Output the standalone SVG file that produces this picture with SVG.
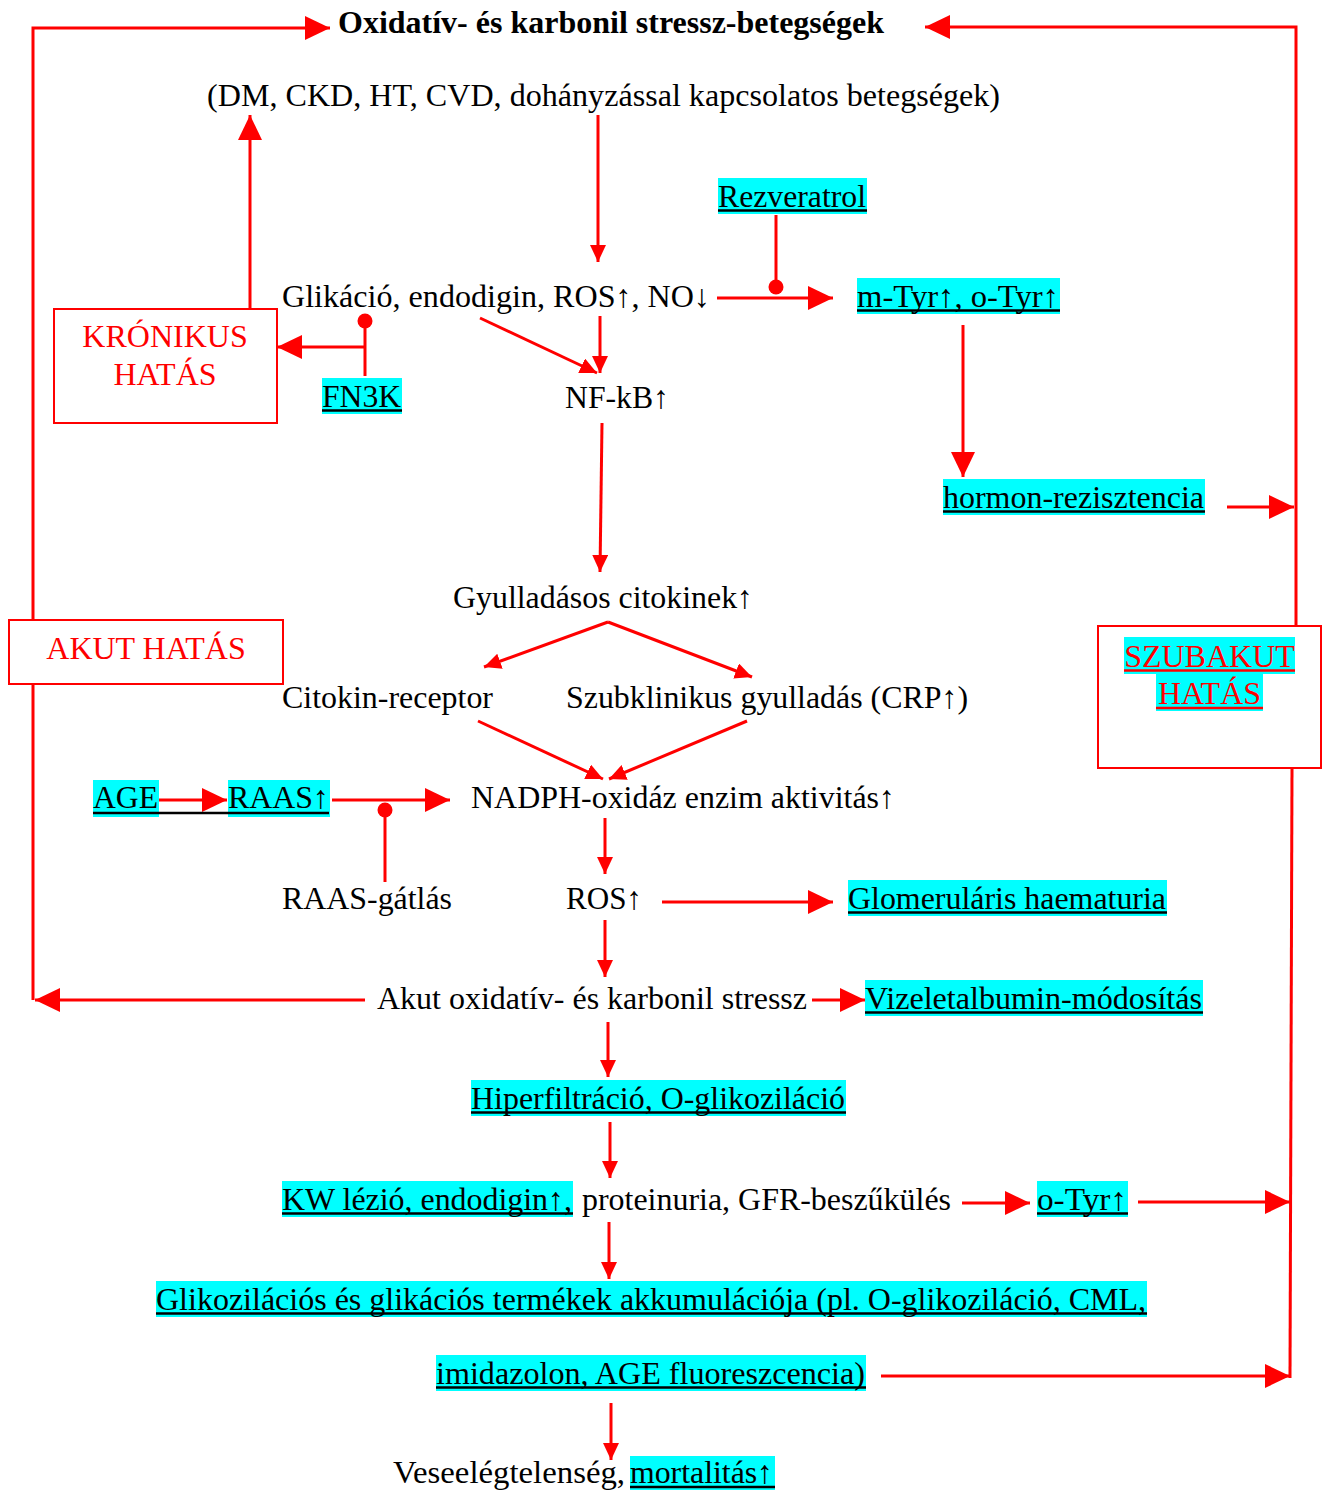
<svg xmlns="http://www.w3.org/2000/svg" width="1325" height="1490" viewBox="0 0 1325 1490">
<style>
.t{font-family:"Liberation Serif","Times New Roman",serif;font-size:32px;fill:#000}
.b{font-weight:bold}
.red{fill:#ff0000}
.hl{fill:#00ffff}
.ul{stroke:#000;stroke-width:2.5}
.ulr{stroke:#ff0000;stroke-width:2.5}
.c{stroke:#ff0000;stroke-width:3;fill:none}
.box{fill:#fff;stroke:#ff0000;stroke-width:2}
.dot{fill:#ff0000}
</style>
<defs>
<marker id="big" markerUnits="userSpaceOnUse" markerWidth="26" markerHeight="26" refX="25" refY="12" orient="auto"><path d="M0,0 L25,12 L0,24 Z" fill="#ff0000"/></marker>
<marker id="med" markerUnits="userSpaceOnUse" markerWidth="20" markerHeight="20" refX="17" refY="8" orient="auto"><path d="M0,0 L17,8 L0,16 Z" fill="#ff0000"/></marker>
</defs>
<rect width="1325" height="1490" fill="#fff"/>

<g id="connectors">
  <path class="c" d="M365,1000 H35" marker-end="url(#big)"/>
  <path class="c" d="M33,1000 V28 H330" marker-end="url(#big)"/>
  <path class="c" d="M1296,627 V27 H925" marker-end="url(#big)"/>
  <path class="c" d="M1292,768 L1290,1378"/>
  <path class="c" d="M1227,507 H1294" marker-end="url(#big)"/>
  <path class="c" d="M1138,1202 H1290" marker-end="url(#big)"/>
  <path class="c" d="M881,1376 H1290" marker-end="url(#big)"/>
  <path class="c" d="M250,309 V115" marker-end="url(#big)"/>
  <path class="c" d="M365,376 V321"/>
  <circle class="dot" cx="365" cy="321" r="7.5"/>
  <path class="c" d="M365,347 H277" marker-end="url(#big)"/>
  <path class="c" d="M598,115 V262" marker-end="url(#med)"/>
  <path class="c" d="M776,215 V287"/>
  <circle class="dot" cx="776" cy="287" r="7.5"/>
  <path class="c" d="M717,298 H833" marker-end="url(#big)"/>
  <path class="c" d="M480,318 L597,373" marker-end="url(#med)"/>
  <path class="c" d="M600,316 V373" marker-end="url(#med)"/>
  <path class="c" d="M963,325 V477" marker-end="url(#big)"/>
  <path class="c" d="M602,423 L600,572" marker-end="url(#med)"/>
  <path class="c" d="M608,622 L484,667" marker-end="url(#med)"/>
  <path class="c" d="M608,622 L752,677" marker-end="url(#med)"/>
  <path class="c" d="M478,721 L603,779" marker-end="url(#med)"/>
  <path class="c" d="M747,721 L609,779" marker-end="url(#med)"/>
  <path class="c" d="M155,800 H227" marker-end="url(#big)"/>
  <path class="c" d="M332,800 H450" marker-end="url(#big)"/>
  <path class="c" d="M385,882 V810"/>
  <circle class="dot" cx="385" cy="810" r="7.5"/>
  <path class="c" d="M605,818 V874" marker-end="url(#med)"/>
  <path class="c" d="M662,902 H833" marker-end="url(#big)"/>
  <path class="c" d="M605,920 V977" marker-end="url(#med)"/>
  <path class="c" d="M812,1000 H865" marker-end="url(#big)"/>
  <path class="c" d="M608,1022 V1077" marker-end="url(#med)"/>
  <path class="c" d="M610,1122 V1178" marker-end="url(#med)"/>
  <path class="c" d="M609,1222 V1279" marker-end="url(#med)"/>
  <path class="c" d="M962,1203 H1030" marker-end="url(#big)"/>
  <path class="c" d="M611,1403 V1460" marker-end="url(#med)"/>
</g>

<g id="title"><text class="t b" x="338" y="33" textLength="546" lengthAdjust="spacingAndGlyphs">Oxidatív- és karbonil stressz-betegségek</text></g>
<g id="diseases"><text class="t" x="207" y="106" textLength="793" lengthAdjust="spacingAndGlyphs">(DM, CKD, HT, CVD, dohányzással kapcsolatos betegségek)</text></g>
<g id="rezveratrol"><rect class="hl" x="718" y="178" width="149" height="36"/><line class="ul" x1="718" y1="210.5" x2="867" y2="210.5"/><text class="t" x="718" y="207" textLength="148" lengthAdjust="spacingAndGlyphs">Rezveratrol</text></g>
<g id="glikacio"><text class="t" x="282" y="307" textLength="428" lengthAdjust="spacingAndGlyphs">Glikáció, endodigin, ROS↑, NO↓</text></g>
<g id="mtyr"><rect class="hl" x="857" y="278" width="203" height="36"/><line class="ul" x1="857" y1="310.5" x2="1060" y2="310.5"/><text class="t" x="857" y="307" textLength="202" lengthAdjust="spacingAndGlyphs">m-Tyr↑, o-Tyr↑</text></g>
<g id="kronikus"><rect class="box" x="54" y="309" width="223" height="114"/><text class="t red" x="165" y="347" text-anchor="middle">KRÓNIKUS</text><text class="t red" x="165" y="385" text-anchor="middle">HATÁS</text></g>
<g id="fn3k"><rect class="hl" x="322" y="378" width="80" height="36"/><line class="ul" x1="322" y1="410.5" x2="402" y2="410.5"/><text class="t" x="322" y="407" textLength="79" lengthAdjust="spacingAndGlyphs">FN3K</text></g>
<g id="nfkb"><text class="t" x="565" y="408" textLength="104" lengthAdjust="spacingAndGlyphs">NF-kB↑</text></g>
<g id="hormon"><rect class="hl" x="943" y="479" width="262" height="36"/><line class="ul" x1="943" y1="511.5" x2="1205" y2="511.5"/><text class="t" x="943" y="508" textLength="261" lengthAdjust="spacingAndGlyphs">hormon-rezisztencia</text></g>
<g id="gyulladasos"><text class="t" x="453" y="608" textLength="300" lengthAdjust="spacingAndGlyphs">Gyulladásos citokinek↑</text></g>
<g id="akut"><rect class="box" x="9" y="620" width="274" height="64"/><text class="t red" x="146" y="659" text-anchor="middle">AKUT HATÁS</text></g>
<g id="szubakut"><rect class="box" x="1098" y="626" width="223" height="142"/><rect class="hl" x="1124" y="637" width="171" height="37"/><rect class="hl" x="1156" y="674" width="107" height="37"/><line class="ulr" x1="1124" y1="670.5" x2="1295" y2="670.5"/><line class="ulr" x1="1156" y1="708" x2="1263" y2="708"/><text class="t red" x="1209.5" y="667" text-anchor="middle">SZUBAKUT</text><text class="t red" x="1209.5" y="704" text-anchor="middle">HATÁS</text></g>
<g id="citokin"><text class="t" x="282" y="708" textLength="211" lengthAdjust="spacingAndGlyphs">Citokin-receptor</text></g>
<g id="szubklinikus"><text class="t" x="566" y="708" textLength="402" lengthAdjust="spacingAndGlyphs">Szubklinikus gyulladás (CRP↑)</text></g>
<g id="age"><rect class="hl" x="93" y="780" width="66" height="37"/><text class="t" x="93" y="808" textLength="65" lengthAdjust="spacingAndGlyphs">AGE</text></g>
<g id="raas"><rect class="hl" x="228" y="780" width="102" height="37"/><text class="t" x="228" y="808" textLength="101" lengthAdjust="spacingAndGlyphs">RAAS↑</text><line class="ul" x1="93" y1="813" x2="329" y2="813"/></g>
<g id="nadph"><text class="t" x="471" y="808" textLength="424" lengthAdjust="spacingAndGlyphs">NADPH-oxidáz enzim aktivitás↑</text></g>
<g id="raasgatlas"><text class="t" x="282" y="909" textLength="170" lengthAdjust="spacingAndGlyphs">RAAS-gátlás</text></g>
<g id="ros"><text class="t" x="566" y="909" textLength="76" lengthAdjust="spacingAndGlyphs">ROS↑</text></g>
<g id="glomerularis"><rect class="hl" x="848" y="880" width="319" height="36"/><line class="ul" x1="848" y1="912.5" x2="1167" y2="912.5"/><text class="t" x="848" y="909" textLength="318" lengthAdjust="spacingAndGlyphs">Glomeruláris haematuria</text></g>
<g id="akutstressz"><text class="t" x="377" y="1009" textLength="430" lengthAdjust="spacingAndGlyphs">Akut oxidatív- és karbonil stressz</text></g>
<g id="vizelet"><rect class="hl" x="865" y="980" width="338" height="36"/><line class="ul" x1="865" y1="1012.5" x2="1203" y2="1012.5"/><text class="t" x="865" y="1009" textLength="337" lengthAdjust="spacingAndGlyphs">Vizeletalbumin-módosítás</text></g>
<g id="hiperfiltracio"><rect class="hl" x="471" y="1080" width="375" height="36"/><line class="ul" x1="471" y1="1112.5" x2="846" y2="1112.5"/><text class="t" x="471" y="1109" textLength="374" lengthAdjust="spacingAndGlyphs">Hiperfiltráció, O-glikoziláció</text></g>
<g id="kw"><rect class="hl" x="282" y="1181" width="291" height="36"/><line class="ul" x1="282" y1="1213.5" x2="573" y2="1213.5"/><text class="t" x="282" y="1210" textLength="290" lengthAdjust="spacingAndGlyphs">KW lézió, endodigin↑,</text><text class="t" x="582" y="1210" textLength="369" lengthAdjust="spacingAndGlyphs">proteinuria, GFR-beszűkülés</text></g>
<g id="otyr"><rect class="hl" x="1037" y="1181" width="91" height="36"/><line class="ul" x1="1037" y1="1213.5" x2="1128" y2="1213.5"/><text class="t" x="1037" y="1210" textLength="90" lengthAdjust="spacingAndGlyphs">o-Tyr↑</text></g>
<g id="glikozilacios"><rect class="hl" x="156" y="1281" width="991" height="36"/><line class="ul" x1="156" y1="1313.5" x2="1147" y2="1313.5"/><text class="t" x="156" y="1310" textLength="990" lengthAdjust="spacingAndGlyphs">Glikozilációs és glikációs termékek akkumulációja (pl. O-glikoziláció, CML,</text></g>
<g id="imidazolon"><rect class="hl" x="436" y="1355" width="430" height="36"/><line class="ul" x1="436" y1="1387.5" x2="866" y2="1387.5"/><text class="t" x="436" y="1384" textLength="429" lengthAdjust="spacingAndGlyphs">imidazolon, AGE fluoreszcencia)</text></g>
<g id="veseelegtelenseg"><text class="t" x="393" y="1483" textLength="232" lengthAdjust="spacingAndGlyphs">Veseelégtelenség,</text><rect class="hl" x="630" y="1456" width="145" height="34"/><line class="ul" x1="630" y1="1487" x2="775" y2="1487"/><text class="t" x="630" y="1483" textLength="143" lengthAdjust="spacingAndGlyphs">mortalitás↑</text></g>
</svg>
